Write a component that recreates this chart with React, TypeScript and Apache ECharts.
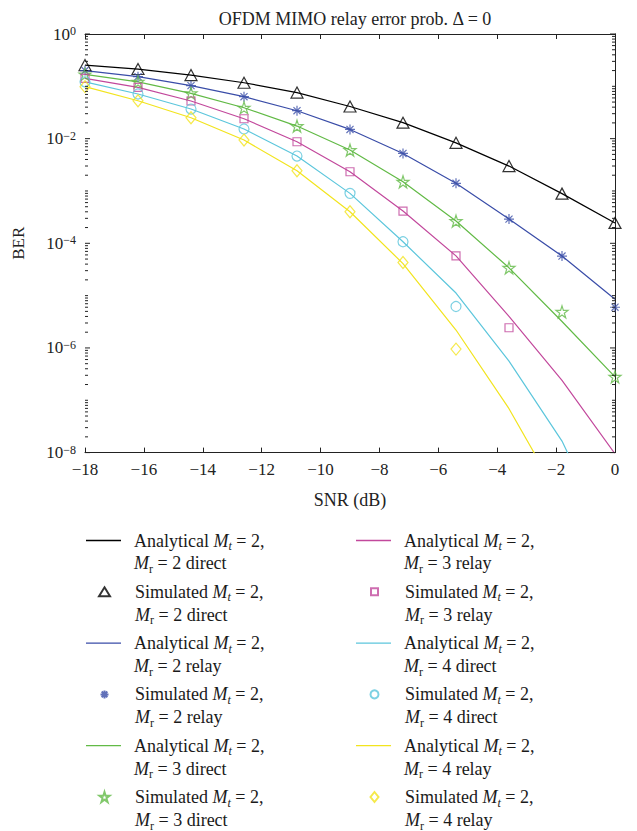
import React, { useEffect, useRef } from 'react';
import * as echarts from 'echarts';

const FONT = "'Liberation Serif', 'DejaVu Serif', serif";

const snr = [-18, -16.2, -14.4, -12.6, -10.8, -9, -7.2, -5.4, -3.6, -1.8, 0];
const xTicks = [-18, 0, 2];
const yExtent = [1e-8, 1];

const anaMr2Direct = [0.255, 0.214, 0.164, 0.117, 0.0759, 0.0412, 0.0202, 0.00832, 0.00299, 8.9e-4, 2.45e-4];
const simMr2Direct = [0.255, 0.214, 0.164, 0.117, 0.0759, 0.0412, 0.0202, 0.00832, 0.00299, 8.9e-4, 2.45e-4];
const anaMr2Relay = [0.2, 0.153, 0.103, 0.0634, 0.0342, 0.015, 0.00522, 0.0014, 2.9e-4, 5.7e-5, 8.5e-6];
const simMr2Relay = [0.2, 0.153, 0.103, 0.0634, 0.0342, 0.015, 0.00522, 0.0014, 2.9e-4, 5.7e-5, 6.0e-6];
const anaMr3Direct = [0.169, 0.122, 0.0735, 0.039, 0.0174, 0.00605, 0.0015, 2.66e-4, 3.4e-5, 3.2e-6, 2.8e-7];
const simMr3Direct = [0.169, 0.122, 0.0735, 0.039, 0.0174, 0.00605, 0.0015, 2.66e-4, 3.4e-5, 4.9e-6, 2.8e-7];
const anaMr3Relay = [0.142, 0.0955, 0.0524, 0.024, 0.00873, 0.00233, 4.13e-4, 5.75e-5, 4.0e-6, 2.4e-7, 9.5e-9];
const simMr3Relay = [0.142, 0.0955, 0.0524, 0.024, 0.00873, 0.00233, 4.13e-4, 5.75e-5, 2.43e-6, null, null];
const anaMr4Direct = [0.122, 0.0713, 0.0368, 0.0153, 0.00465, 9.0e-4, 1.07e-4, 1.12e-5, 5.6e-7, 1.66e-8, 1.26e-10];
const simMr4Direct = [0.122, 0.0713, 0.0368, 0.0153, 0.00465, 9.0e-4, 1.07e-4, 6.2e-6, null, null, null];
const anaMr4Relay = [0.0984, 0.0531, 0.0251, 0.0094, 0.00243, 4.0e-4, 4.1e-5, 2.2e-6, 6.9e-8, 1.15e-9, 1.6e-11];
const simMr4Relay = [0.0984, 0.0531, 0.0251, 0.0094, 0.00243, 4.0e-4, 4.3e-5, 9.5e-7, null, null, null];

const ASTERISK = 'path://M0,-1L0,1M-1,0L1,0M-0.707,-0.707L0.707,0.707M-0.707,0.707L0.707,-0.707';
const PENTAGRAM =
  'path://M0,-1L0.2245,-0.309L0.951,-0.309L0.363,0.118L0.588,0.809L0,0.382L-0.588,0.809L-0.363,0.118L-0.951,-0.309L-0.2245,-0.309Z';

const groups = [
  { mr: 2, mode: 'direct', ana: anaMr2Direct, sim: simMr2Direct, color: '#000000', symbol: 'triangle', size: [12, 11], icon: [11, 9] },
  { mr: 2, mode: 'relay', ana: anaMr2Relay, sim: simMr2Relay, color: '#3A4DA8', symbol: ASTERISK, size: [10, 10], icon: [8, 8] },
  { mr: 3, mode: 'direct', ana: anaMr3Direct, sim: simMr3Direct, color: '#62BA46', symbol: PENTAGRAM, size: [12, 12], icon: [10, 10] },
  { mr: 3, mode: 'relay', ana: anaMr3Relay, sim: simMr3Relay, color: '#C2489C', symbol: 'rect', size: [8, 8], icon: [7, 7] },
  { mr: 4, mode: 'direct', ana: anaMr4Direct, sim: simMr4Direct, color: '#5CC6DC', symbol: 'circle', size: [10, 10], icon: [8, 8] },
  { mr: 4, mode: 'relay', ana: anaMr4Relay, sim: simMr4Relay, color: '#F2E41E', symbol: 'diamond', size: [10, 12], icon: [8, 10] },
];

const nameOf = (kind: string, g: any) => `${kind} Mt = 2, Mr = ${g.mr} ${g.mode}`;
const richOf = (kind: string, g: any) =>
  `{n|${kind} }{i|M}{st|t}{n| = 2,}\n{i|M}{sr|r}{n| = ${g.mr} ${g.mode}}`;

// tick marks for the log y axis (MATLAB style box ticks)
const yTickData: number[][] = [];
for (let k = -8; k <= 0; k++) {
  yTickData.push([-18, Math.pow(10, k), k % 2 === 0 ? 1 : 0]);
  if (k < 0) {
    for (let m = 2; m <= 9; m++) yTickData.push([-18, m * Math.pow(10, k), 0]);
  }
}

export default function App() {
  const ref = useRef<HTMLDivElement>(null);
  useEffect(() => {
    document.body.style.margin = '0';
    if (!ref.current) return;
    const chart = echarts.init(ref.current, null, { renderer: 'svg' });

    const richStyles = {
      n: { fontFamily: FONT, fontSize: 18, lineHeight: 23, color: '#1a1a1a' },
      i: { fontFamily: FONT, fontSize: 18, lineHeight: 23, fontStyle: 'italic', color: '#1a1a1a' },
      st: { fontFamily: FONT, fontSize: 12, lineHeight: 15, verticalAlign: 'bottom', fontStyle: 'italic', color: '#1a1a1a' },
      sr: { fontFamily: FONT, fontSize: 12, lineHeight: 15, verticalAlign: 'bottom', color: '#1a1a1a' },
    };

    const series: any[] = [];
    const legends: any[] = [];
    const colLeft = [86, 356];
    const lineW = 35;
    const rowY0 = 540;
    const rowPitch = 51.3;
    const textX = 48; // text start relative to the icon column
    const topShift = 34;

    groups.forEach((g, gi) => {
      const an = nameOf('Analytical', g);
      const sn = nameOf('Simulated', g);
      series.push({
        name: an,
        type: 'line',
        data: snr.map((x, i) => [x, g.ana[i]]),
        symbol: 'none',
        clip: true,
        lineStyle: { color: g.color, width: 1.2 },
        itemStyle: { color: g.color },
        z: 2,
      });
      series.push({
        name: sn,
        type: 'scatter',
        data: snr
          .map((x, i) => (g.sim[i] == null ? null : [x, g.sim[i]]))
          .filter((d) => d != null),
        symbol: g.symbol,
        symbolSize: g.size,
        itemStyle: { color: 'rgba(0,0,0,0)', borderColor: g.color, borderWidth: 1.2 },
        z: 3,
      });

      const col = gi < 3 ? 0 : 1;
      const row = (gi % 3) * 2;
      const base = {
        orient: 'horizontal',
        padding: 0,
        selectedMode: false,
        symbolKeepAspect: false,
      };
      legends.push({
        ...base,
        left: colLeft[col],
        top: rowY0 + rowPitch * row - topShift,
        itemWidth: lineW,
        itemHeight: 1.3,
        data: [{ name: an, icon: 'rect' }],
        formatter: () => richOf('Analytical', g),
        textStyle: { fontFamily: FONT, lineHeight: 23, padding: [23, 0, 0, textX - lineW - 5], rich: richStyles },
      });
      const iw = g.icon[0];
      const ih = g.icon[1];
      legends.push({
        ...base,
        left: colLeft[col] + (lineW - iw) / 2,
        top: rowY0 + rowPitch * (row + 1) - topShift,
        itemWidth: iw,
        itemHeight: ih,
        data: [{ name: sn }],
        formatter: () => richOf('Simulated', g),
        textStyle: {
          fontFamily: FONT,
          lineHeight: 23,
          padding: [23, 0, 0, textX - (lineW - iw) / 2 - iw - 5],
          rich: richStyles,
        },
      });
    });

    series.push({
      type: 'custom',
      name: 'ticks',
      silent: true,
      data: yTickData,
      renderItem: (params: any, api: any) => {
        const v = api.value(1);
        const len = api.value(2) === 1 ? 5 : 3;
        const l = api.coord([xTicks[0], v]);
        const r = api.coord([xTicks[1], v]);
        return {
          type: 'group',
          children: [
            { type: 'line', shape: { x1: l[0], y1: l[1], x2: l[0] + len, y2: l[1] }, style: { stroke: '#222', lineWidth: 1 } },
            { type: 'line', shape: { x1: r[0] - len, y1: r[1], x2: r[0], y2: r[1] }, style: { stroke: '#222', lineWidth: 1 } },
          ],
        };
      },
      z: 5,
    });

    const axisLine = { show: true, lineStyle: { color: '#222', width: 1 } };
    const xAxisBase = {
      type: 'value',
      min: xTicks[0],
      max: xTicks[1],
      interval: xTicks[2],
      axisLine,
      splitLine: { show: false },
    };

    chart.setOption({
      animation: false,
      title: {
        text: 'OFDM MIMO relay error prob. Δ = 0',
        left: 350,
        top: 5,
        textAlign: 'center',
        textStyle: { fontFamily: FONT, fontSize: 18, fontWeight: 'normal', color: '#222' },
      },
      grid: { left: 85, top: 34, width: 530, height: 418.6 },
      legend: legends,
      xAxis: [
        {
          ...xAxisBase,
          position: 'bottom',
          name: 'SNR (dB)',
          nameLocation: 'middle',
          nameGap: 38,
          nameTextStyle: { fontFamily: FONT, fontSize: 18, color: '#222' },
          axisTick: { show: true, inside: true, length: 5, lineStyle: { color: '#222' } },
          axisLabel: {
            fontFamily: FONT,
            fontSize: 17,
            color: '#222',
            margin: 8,
            formatter: (v: number) => (v < 0 ? '−' + Math.abs(v) : String(v)),
          },
        },
        {
          ...xAxisBase,
          position: 'top',
          axisTick: { show: true, inside: true, length: 5, lineStyle: { color: '#222' } },
          axisLabel: { show: false },
        },
      ],
      yAxis: [
        {
          type: 'log',
          logBase: 10,
          min: yExtent[0],
          max: yExtent[1],
          splitNumber: 8,
          position: 'left',
          name: 'BER',
          nameLocation: 'middle',
          nameGap: 58,
          nameTextStyle: { fontFamily: FONT, fontSize: 17, color: '#222' },
          axisLine,
          axisTick: { show: false },
          splitLine: { show: false },
          minorTick: { show: false },
          axisLabel: {
            margin: 9,
            color: '#222',
            formatter: (v: number) => {
              const e = Math.round(Math.log10(v));
              if (e % 2 !== 0) return '';
              return `{b|10}{s|${e < 0 ? '−' + Math.abs(e) : e}}`;
            },
            rich: {
              b: { fontFamily: FONT, fontSize: 17, lineHeight: 18, color: '#222' },
              s: { fontFamily: FONT, fontSize: 12, lineHeight: 12, verticalAlign: 'top', color: '#222' },
            },
          },
        },
        {
          type: 'log',
          logBase: 10,
          min: yExtent[0],
          max: yExtent[1],
          position: 'right',
          axisLine,
          axisTick: { show: false },
          axisLabel: { show: false },
          splitLine: { show: false },
        },
      ],
      series,
    });
    return () => chart.dispose();
  }, []);
  return <div ref={ref} style={{ width: 637, height: 831 }} />;
}
